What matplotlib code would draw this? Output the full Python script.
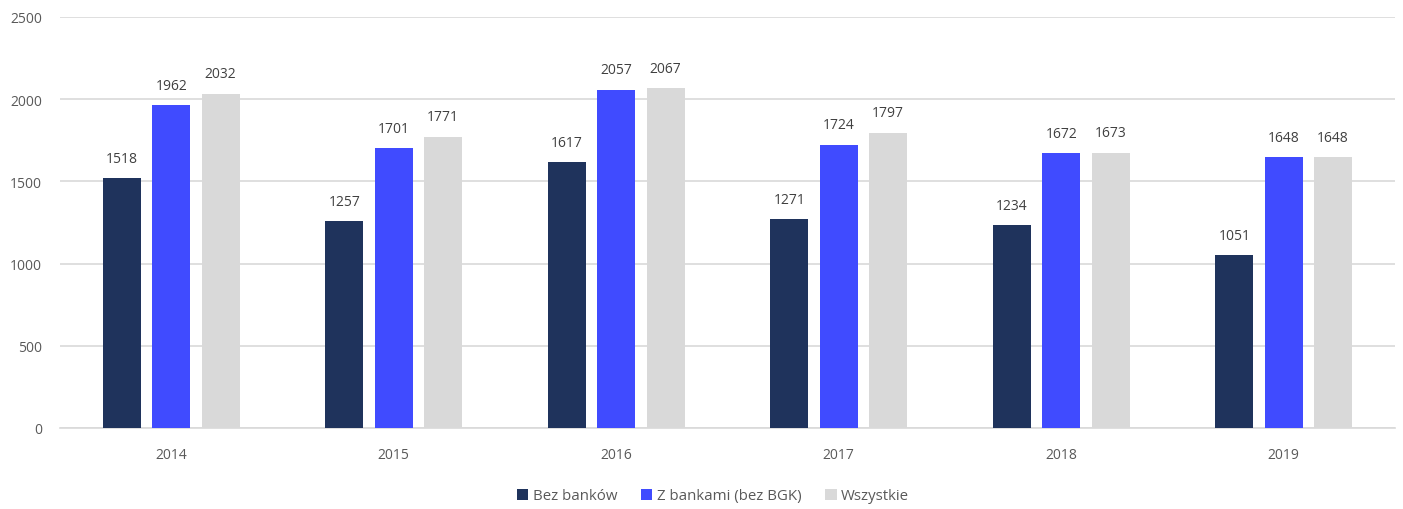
import matplotlib
matplotlib.use("Agg")
import matplotlib.pyplot as plt
import numpy as np

years = ["2014", "2015", "2016", "2017", "2018", "2019"]
bez_bankow = [1518, 1257, 1617, 1271, 1234, 1051]
z_bankami = [1962, 1701, 2057, 1724, 1672, 1648]
wszystkie = [2032, 1771, 2067, 1797, 1673, 1648]
series_names = ["Bez banków", "Z bankami (bez BGK)", "Wszystkie"]
colors = ["#1F335C", "#404BFF", "#D9D9D9"]

plt.rcParams['font.family'] = ['Open Sans', 'DejaVu Sans']
text_color = "#595959"

fig = plt.figure(figsize=(14.03, 5.10), dpi=100)
ax = fig.add_axes([60/1403, 1-429/510, (1395-60)/1403, (429-18)/510])

x = np.arange(len(years))
w = 0.171
off = 0.222
for i, (vals, name, c) in enumerate(zip([bez_bankow, z_bankami, wszystkie], series_names, colors)):
    bars = ax.bar(x + (i-1)*off, vals, width=w, color=c, label=name, zorder=3)
    for b, v in zip(bars, vals):
        ax.annotate(str(v), (b.get_x()+b.get_width()/2, v), xytext=(0, 9),
                    textcoords="offset points", ha="center", va="bottom",
                    fontsize=10, color="#404040")

ax.set_xlim(-0.5, len(years)-0.5)
ax.set_ylim(0, 2500)
ax.set_yticks(np.arange(0, 2501, 500))
ax.set_xticks(x)
ax.set_xticklabels(years)
ax.yaxis.grid(True, color="#D9D9D9", linewidth=1.2, zorder=0)
ax.set_axisbelow(True)
for s in ["top", "right", "left"]:
    ax.spines[s].set_visible(False)
ax.spines["bottom"].set_color("#D9D9D9")
ax.spines["bottom"].set_linewidth(1.2)
ax.tick_params(axis="both", length=0, labelsize=10, colors=text_color)
ax.tick_params(axis="x", pad=14)
ax.tick_params(axis="y", pad=13)

leg = fig.legend(loc="center", bbox_to_anchor=(713/1403, 1-497/510), ncol=3,
                 frameon=False, fontsize=10.8, handlelength=0.75, handleheight=0.75,
                 handletextpad=0.3, columnspacing=1.6)
for t in leg.get_texts():
    t.set_color(text_color)

fig.savefig("out.png", dpi=100)
